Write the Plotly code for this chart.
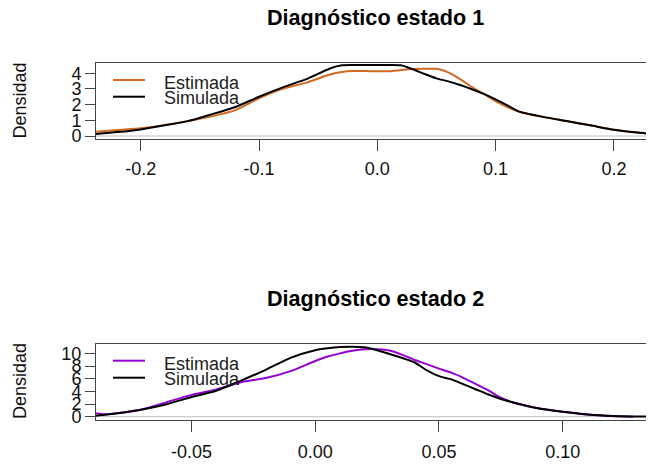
import plotly.graph_objects as go

# ---------------- data ----------------
x1 = [-0.238, -0.22, -0.20, -0.18, -0.16, -0.14, -0.12, -0.10, -0.08, -0.06, -0.04, -0.03,
      -0.02, -0.01, 0.0, 0.01, 0.02, 0.03, 0.04, 0.05, 0.06, 0.07, 0.08, 0.09, 0.10, 0.11,
      0.12, 0.14, 0.16, 0.18, 0.20, 0.22, 0.234]
sim1 = [0.13, 0.25, 0.42, 0.68, 0.95, 1.38, 1.85, 2.50, 3.10, 3.62, 4.30, 4.50,
        4.52, 4.52, 4.52, 4.52, 4.50, 4.25, 3.95, 3.67, 3.48, 3.25, 2.98, 2.68, 2.33, 1.95,
        1.55, 1.22, 0.95, 0.68, 0.40, 0.22, 0.12]
est1 = [0.27, 0.38, 0.49, 0.68, 0.95, 1.25, 1.65, 2.40, 3.00, 3.40, 3.92, 4.08,
        4.14, 4.14, 4.12, 4.12, 4.20, 4.27, 4.28, 4.28, 4.05, 3.62, 3.12, 2.68, 2.22, 1.84,
        1.55, 1.22, 0.95, 0.68, 0.40, 0.22, 0.14]

x2 = [-0.0886, -0.085, -0.08, -0.07, -0.06, -0.05, -0.04, -0.03, -0.02, -0.01, 0.0, 0.005,
      0.01, 0.015, 0.02, 0.025, 0.03, 0.035, 0.04, 0.045, 0.05, 0.055, 0.06, 0.065, 0.07,
      0.075, 0.08, 0.09, 0.10, 0.11, 0.12, 0.1285, 0.137]
sim2 = [0.16, 0.30, 0.55, 1.15, 1.98, 3.10, 4.10, 5.70, 7.40, 9.30, 10.50, 10.80,
        11.00, 11.06, 10.95, 10.50, 9.90, 9.30, 8.60, 7.35, 6.40, 5.90, 5.10, 4.30, 3.50,
        2.80, 2.25, 1.35, 0.78, 0.35, 0.12, 0.05, 0.02]
est2 = [0.53, 0.38, 0.55, 1.15, 2.30, 3.45, 4.30, 5.45, 6.10, 7.20, 8.80, 9.50,
        10.00, 10.40, 10.65, 10.65, 10.45, 9.80, 9.00, 8.30, 7.60, 6.95, 6.10, 5.15, 4.15,
        3.00, 2.25, 1.35, 0.78, 0.35, 0.12, 0.00, None]

xticks1 = [-0.2, -0.1, 0.0, 0.1, 0.2]
xticklabels1 = ["-0.2", "-0.1", "0.0", "0.1", "0.2"]
yticks1 = [0, 1, 2, 3, 4]
xticks2 = [-0.05, 0.0, 0.05, 0.10]
xticklabels2 = ["-0.05", "0.00", "0.05", "0.10"]
yticks2 = [0, 2, 4, 6, 8, 10]

titles = ["Diagnóstico estado 1", "Diagnóstico estado 2"]
series_names = ["Estimada", "Simulada"]
est_colors = ["#D2691E", "#9400D3"]
sim_color = "#000000"

# ---------------- layout helpers ----------------
OFF = 8                      # page body margin of the browser
W, H = 654 - OFF, 468 - OFF  # figure size that fits the window
FONT = "Liberation Sans, Arial, sans-serif"
AX = "#444444"


def px(x):
    return (x - OFF) / W


def py(y):
    return 1 - (y - OFF) / H


fig = go.Figure()

line_kw = dict(shape="spline", smoothing=0.6, width=2)
fig.add_trace(go.Scatter(x=x1, y=est1, mode="lines", line=dict(color=est_colors[0], **line_kw),
                         xaxis="x", yaxis="y", showlegend=False, name=series_names[0]))
fig.add_trace(go.Scatter(x=x1, y=sim1, mode="lines", line=dict(color=sim_color, **line_kw),
                         xaxis="x", yaxis="y", showlegend=False, name=series_names[1]))
fig.add_trace(go.Scatter(x=x2, y=est2, mode="lines", line=dict(color=est_colors[1], **line_kw),
                         xaxis="x2", yaxis="y2", showlegend=False, name=series_names[0]))
fig.add_trace(go.Scatter(x=x2, y=sim2, mode="lines", line=dict(color=sim_color, **line_kw),
                         xaxis="x2", yaxis="y2", showlegend=False, name=series_names[1]))

common_x = dict(showgrid=False, zeroline=False, showline=True, linecolor=AX, linewidth=1,
                mirror=True, ticks="outside", ticklen=11, tickcolor=AX, tickwidth=1,
                tickfont=dict(family=FONT, size=18, color="#111"), automargin=False)
common_y = dict(showgrid=False, zeroline=False, showline=True, linecolor=AX, linewidth=1,
                ticks="outside", ticklen=10, tickcolor=AX, tickwidth=1,
                tickfont=dict(family=FONT, size=18, color="#111"), automargin=False)

fig.update_layout(
    width=W, height=H, autosize=False,
    margin=dict(l=0, r=0, t=0, b=0, pad=0),
    paper_bgcolor="white", plot_bgcolor="white",
    showlegend=False,
    xaxis=dict(domain=[px(96), 1.0], range=[-0.2378, 0.2339], anchor="y",
               tickvals=xticks1, ticktext=xticklabels1, ticklabelstandoff=2, **common_x),
    yaxis=dict(domain=[py(139), py(63.3)], range=[-0.19, 4.63], anchor="x",
               tickvals=yticks1, **common_y),
    xaxis2=dict(domain=[px(96), 1.0], range=[-0.0886, 0.1369], anchor="y2",
                tickvals=xticks2, ticktext=xticklabels2, ticklabelstandoff=4, **common_x),
    yaxis2=dict(domain=[py(420), py(344)], range=[-0.52, 11.48], anchor="x2",
                tickvals=yticks2, **common_y),
)

# zero lines (gray)
for xr, yr in (("x", "y"), ("x2", "y2")):
    fig.add_shape(type="line", xref=f"{xr} domain", yref=yr, x0=0, x1=1, y0=0, y1=0,
                  line=dict(color="#BEBEBE", width=1), layer="below")

# titles
for t, yc in zip(titles, (18, 298)):
    fig.add_annotation(text=f"<b>{t}</b>", xref="paper", yref="paper", x=px(375), y=py(yc),
                       xanchor="center", yanchor="middle", showarrow=False,
                       font=dict(family=FONT, size=21.6, color="#000"))

# y labels
for yc in (101, 381.5):
    fig.add_annotation(text="Densidad", xref="paper", yref="paper", x=px(19.5), y=py(yc),
                       xanchor="center", yanchor="middle", textangle=-90, showarrow=False,
                       font=dict(family=FONT, size=18, color="#111"))

# legends
for col, (y_est, y_sim) in zip(est_colors, ((80, 96.7), (360.7, 377.7))):
    for c, yy, name, dy in ((col, y_est, series_names[0], 3), (sim_color, y_sim, series_names[1], 1)):
        fig.add_shape(type="line", xref="paper", yref="paper", x0=px(113), x1=px(145),
                      y0=py(yy), y1=py(yy), line=dict(color=c, width=2))
        fig.add_annotation(text=name, xref="paper", yref="paper", x=px(162), y=py(yy + dy),
                           xanchor="left", yanchor="middle", showarrow=False,
                           font=dict(family=FONT, size=18, color="#222"))

fig.write_html("out.html")
